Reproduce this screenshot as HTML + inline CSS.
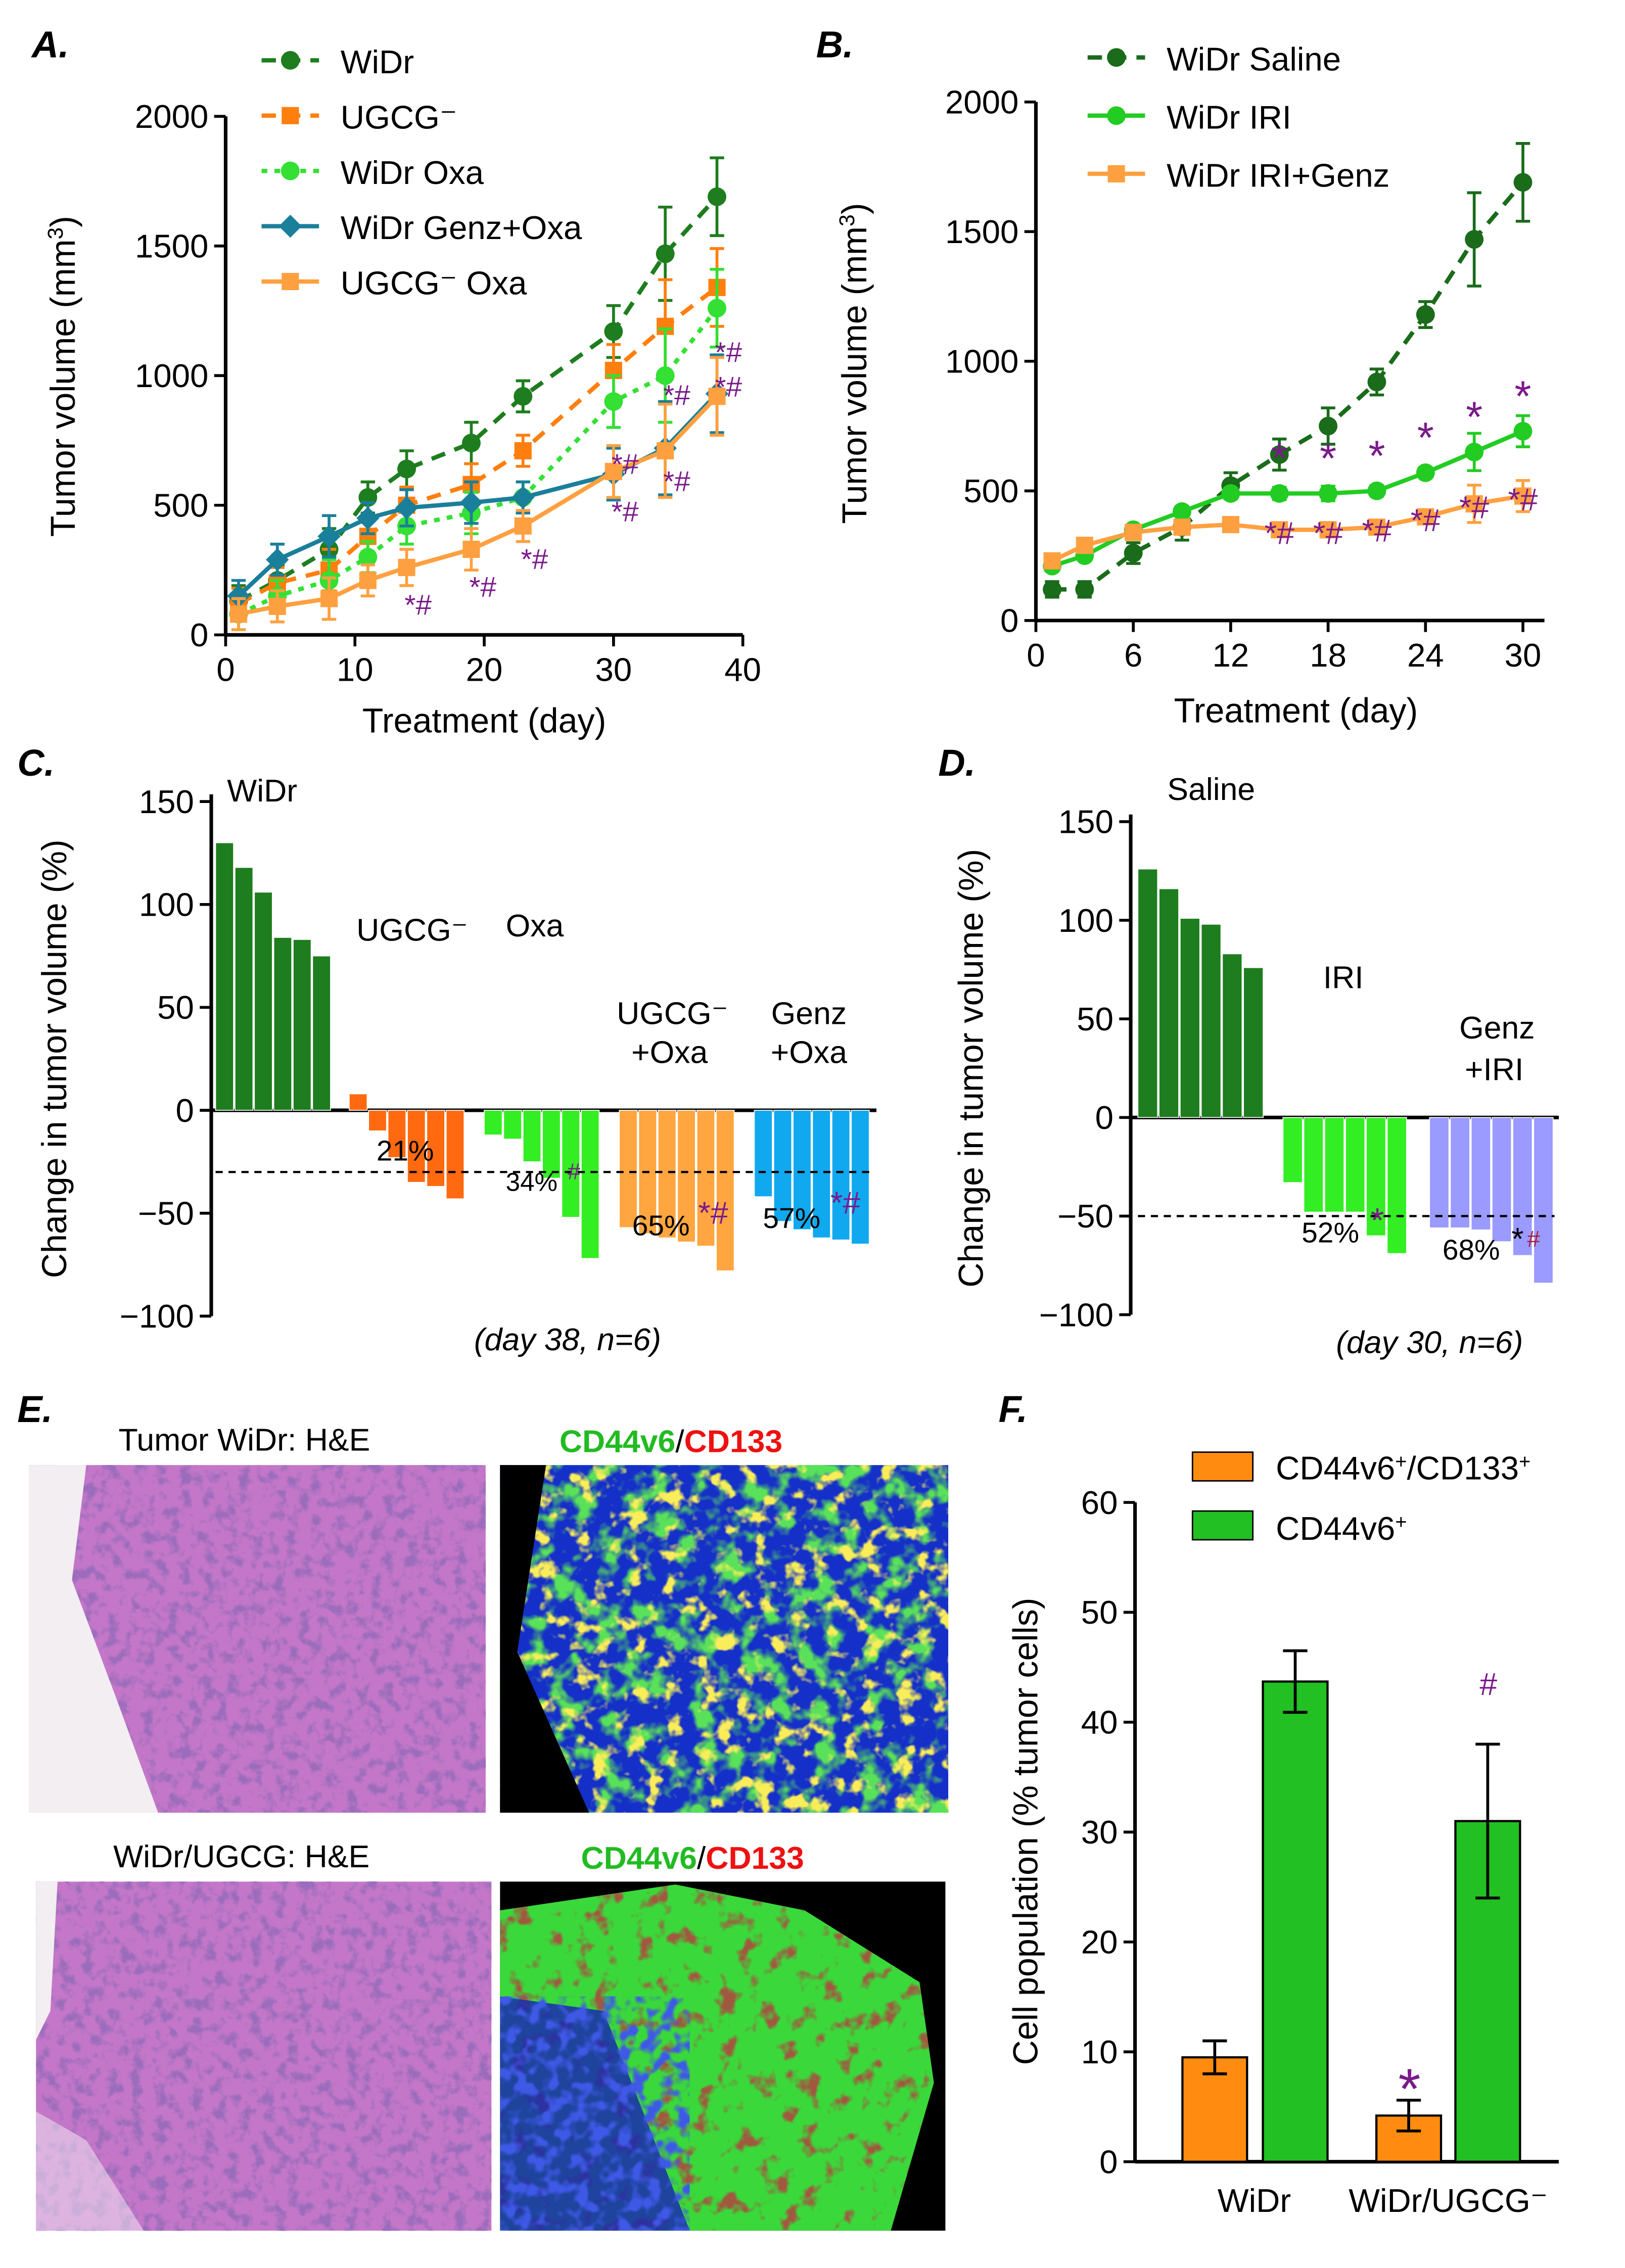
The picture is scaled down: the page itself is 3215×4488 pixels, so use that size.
<!DOCTYPE html>
<html><head><meta charset="utf-8"><style>
html,body{margin:0;padding:0;background:#fff}
svg{display:block}
text{font-family:"Liberation Sans",Arial,sans-serif}
</style></head><body>
<svg id="fig" width="3215" height="4488" viewBox="0 0 1131 1579" xmlns="http://www.w3.org/2000/svg">
<defs>
<filter id="he" x="0" y="0" width="100%" height="100%"><feTurbulence type="fractalNoise" baseFrequency="0.12" numOctaves="3" seed="3"/><feColorMatrix type="matrix" values="0 0 0 0 0.33  0 0 0 0 0.15  0 0 0 0 0.5  4 0 0 0 -1.9"/></filter>
<filter id="flg" x="0" y="0" width="100%" height="100%"><feTurbulence type="fractalNoise" baseFrequency="0.06" numOctaves="3" seed="5"/><feColorMatrix type="matrix" values="0 0 0 0 0.1  0 0 0 0 0.75  0 0 0 0 0.1  5 0 0 0 -2.4"/></filter>
<filter id="fly" x="0" y="0" width="100%" height="100%"><feTurbulence type="fractalNoise" baseFrequency="0.08" numOctaves="3" seed="11"/><feColorMatrix type="matrix" values="0 0 0 0 0.95  0 0 0 0 0.85  0 0 0 0 0.1  6 0 0 0 -3.3"/></filter>
<filter id="flr" x="0" y="0" width="100%" height="100%"><feTurbulence type="fractalNoise" baseFrequency="0.07" numOctaves="3" seed="9"/><feColorMatrix type="matrix" values="0 0 0 0 0.35  0 0 0 0 0.1  0 0 0 0 0.05  6 0 0 0 -3.4"/></filter>
<filter id="flb" x="0" y="0" width="100%" height="100%"><feTurbulence type="fractalNoise" baseFrequency="0.1" numOctaves="2" seed="2"/><feColorMatrix type="matrix" values="0 0 0 0 0.05  0 0 0 0 0.1  0 0 0 0 0.8  5 0 0 0 -2.3"/></filter>
<clipPath id="tissue"><path d="M348,1330 L470,1312 L560,1330 L640,1380 L650,1450 L620,1553 L348,1553 Z"/></clipPath>
</defs>
</svg>
<script>
// ---------- DATA ----------
const aDays=[1,4,8,11,14,19,23,30,34,38];
const aWiDr=[130,210,330,530,640,740,920,1170,1470,1690];
const aUGCG=[120,200,250,380,500,580,710,1020,1190,1340];
const aWiDrOxa=[80,150,210,300,420,470,530,900,1000,1260];
const aGenzOxa=[150,290,380,450,490,510,530,620,720,930];
const aUGCGOxa=[80,110,140,210,260,330,420,630,710,920];
const aErr=[60,60,80,60,70,80,60,100,180,150];
const aXTicks=[0,10,20,30,40];
const aYTicks=[0,500,1000,1500,2000];
const bDays=[1,3,6,9,12,15,18,21,24,27,30];
const bSaline=[120,120,260,360,520,640,750,920,1180,1470,1690];
const bIRI=[210,250,350,420,490,490,490,500,570,650,730];
const bIRIGenz=[230,290,340,360,370,350,350,360,400,450,480];
const bErr=[30,30,40,50,50,60,70,50,50,180,150];
const bXTicks=[0,6,12,18,24,30];
const bYTicks=[0,500,1000,1500,2000];
const cWiDr=[130,118,106,84,83,75];
const cUGCG=[8,-10,-23,-35,-37,-43];
const cOxa=[-12,-14,-25,-33,-52,-72];
const cUGCGOxa=[-57,-60,-62,-64,-66,-78];
const cGenzOxa=[-42,-54,-58,-62,-63,-65];
const cYTicks=[-100,-50,0,50,100,150];
const dSaline=[126,116,101,98,83,76];
const dIRI=[-33,-48,-48,-48,-60,-69];
const dGenzIRI=[-56,-56,-57,-63,-70,-84];
const dYTicks=[-100,-50,0,50,100,150];
const fCats=["WiDr","WiDr/UGCG⁻"];
const fDouble=[9.5,4.2];
const fDoubleErr=[1.5,1.4];
const fSingle=[43.7,31];
const fSingleErr=[2.8,7];
const fYTicks=[0,10,20,30,40,50,60];

// ---------- HELPERS ----------
const svg=document.getElementById('fig');const NS='http://www.w3.org/2000/svg';
function mk(tag,at,parent){const e=document.createElementNS(NS,tag);for(const k in at)e.setAttribute(k,at[k]);(parent||svg).appendChild(e);return e;}
function tx(x,y,s,sz,anchor,extra){const e=mk('text',Object.assign({x:x,y:y,'font-size':sz||22,'text-anchor':anchor||'start'},extra||{}));e.textContent=s;return e;}
const PUR='fill:#7a1a8a';
function line(x1,y1,x2,y2,st,w,dash){return mk('line',{x1,y1,x2,y2,stroke:st||'#000','stroke-width':w||2,'stroke-dasharray':dash||'none'});}
function marker(type,x,y,c){let e;
 if(type==='c')e=mk('circle',{cx:x,cy:y,r:6.5,fill:c});
 else if(type==='s')e=mk('rect',{x:x-6,y:y-6,width:12,height:12,fill:c});
 else e=mk('polygon',{points:`${x},${y-8} ${x+8},${y} ${x},${y+8} ${x-8},${y}`,fill:c});
 return e;}
function series(g,xs,ys,X,Y,c,dash,mt,err,name){
 const pts=xs.map((d,i)=>X(d)+','+Y(ys[i])).join(' ');
 const pl=mk('polyline',{points:pts,fill:'none',stroke:c,'stroke-width':3,'stroke-dasharray':dash});
 
 
 xs.forEach((d,i)=>{const x=X(d),y1=Y(ys[i]-err[i]),y2=Y(ys[i]+err[i]);
  line(x,y1,x,y2,c,2);line(x-5,y1,x+5,y1,c,2);line(x-5,y2,x+5,y2,c,2);
  const m=marker(mt,x,Y(ys[i]),c);
  
  });
}
function axesXY(X,Y,xt,yt,x0,y0,x1,y1){
 line(x0,y0,x0,y1,'#000',2.5);line(x0,y0,x1,y0,'#000',2.5);
 xt.forEach(t=>{line(X(t),y0,X(t),y0+8);tx(X(t),y0+32,t,23,'middle');});
 yt.forEach(t=>{line(x0-8,Y(t),x0,Y(t));tx(x0-12,Y(t)+8,t,23,'end');});
}

// ---------- PANEL A ----------
tx(22,40,'A.',26,'start',{'font-weight':'bold','font-style':'italic'});
{const X=d=>157+9*d,Y=v=>442-0.1805*v;
 axesXY(X,Y,aXTicks,aYTicks,157,442,517,81);
 tx(337,510,'Treatment (day)',24,'middle');
 const t=tx(52,262,'',24,'middle',{transform:'rotate(-90 52 262)'});t.innerHTML='Tumor volume (mm<tspan baseline-shift="super" font-size="15">3</tspan>)';
 series(svg,aDays,aWiDr,X,Y,'#1e7d1e','10,7','c',aErr,'widr');
 series(svg,aDays,aUGCG,X,Y,'#ff7f0e','10,7','s',aErr,'ugcg');
 series(svg,aDays,aWiDrOxa,X,Y,'#33e033','4,5','c',aErr,'widr-oxa');
 series(svg,aDays,aGenzOxa,X,Y,'#1a7f9a','none','d',aErr,'genz-oxa');
 series(svg,aDays,aUGCGOxa,X,Y,'#ffa040','none','s',aErr,'ugcg-oxa');
 [[14,aUGCGOxa,25,'*#'],[19,aUGCGOxa,25,'*#'],[23,aUGCGOxa,22,'*#'],[30,aGenzOxa,25,'*#'],[34,aGenzOxa,22,'*#'],[38,aGenzOxa,-30,'*#'],[30,aGenzOxa,-8,'*#'],[34,aGenzOxa,-38,'*#'],[38,aGenzOxa,-6,'*#']].forEach(m=>{const i=aDays.indexOf(m[0]);tx(X(m[0])+8,Y(m[1][i])+m[2]+8,m[3],20,'middle',{style:PUR});});
 const leg=[['WiDr','#1e7d1e','10,7','c'],['UGCG⁻','#ff7f0e','10,7','s'],['WiDr Oxa','#33e033','4,5','c'],['WiDr Genz+Oxa','#1a7f9a','none','d'],['UGCG⁻ Oxa','#ffa040','none','s']];
 leg.forEach((l,i)=>{const y=42+38.5*i;line(182,y,222,y,l[1],3,l[2]);marker(l[3],202,y,l[1]);const e=tx(237,y+9,l[0],23);});
}
// ---------- PANEL B ----------
tx(568,40,'B.',26,'start',{'font-weight':'bold','font-style':'italic'});
{const X=d=>721+11.3*d,Y=v=>432-0.1805*v;
 axesXY(X,Y,bXTicks,bYTicks,721,432,1075,71);
 tx(902,503,'Treatment (day)',24,'middle');
 const t=tx(603,253,'',24,'middle',{transform:'rotate(-90 603 253)'});t.innerHTML='Tumor volume (mm<tspan baseline-shift="super" font-size="15">3</tspan>)';
 series(svg,bDays,bSaline,X,Y,'#1a6b1a','10,7','c',bErr,'saline');
 series(svg,bDays,bIRI,X,Y,'#22cc22','none','c',bErr.map(e=>e*0.4),'iri');
 series(svg,bDays,bIRIGenz,X,Y,'#ffa040','none','s',bErr.map(e=>e*0.4),'iri-genz');
 bDays.slice(5).forEach((d,i)=>{tx(X(d),Y(bIRI[i+5])-14,'*',30,'middle',{style:PUR});tx(X(d),Y(bIRIGenz[i+5])+10,'*#',22,'middle',{style:PUR});});
 const leg=[['WiDr Saline','#1a6b1a','10,7','c'],['WiDr IRI','#22cc22','none','c'],['WiDr IRI+Genz','#ffa040','none','s']];
 leg.forEach((l,i)=>{const y=40+40.5*i;line(757,y,797,y,l[1],3,l[2]);marker(l[3],777,y,l[1]);tx(812,y+9,l[0],23);});
}
// ---------- WATERFALLS ----------
function waterfall(Y,x0,axisEnd,groups,ticks,ylab,lx){
 line(x0,Y(150)-5,x0,Y(-100),'#000',2.5);line(x0,Y(0),axisEnd,Y(0),'#000',2.5);
 ticks.forEach(t=>{line(x0-8,Y(t),x0,Y(t));tx(x0-12,Y(t)+8,t===-100?'−100':t===-50?'−50':t,23,'end');});
 groups.forEach(g=>{g.vals.forEach((v,i)=>{const x=g.x+i*g.w;const r=mk('rect',{x:x,y:Math.min(Y(v),Y(0)),width:g.w-1,height:Math.abs(Y(v)-Y(0)),fill:g.c,stroke:'#fff','stroke-width':0.6});});});
 tx(lx,(Y(150)+Y(-100))/2,ylab,24,'middle',{transform:`rotate(-90 ${lx} ${(Y(150)+Y(-100))/2})`});
}
tx(12,540,'C.',26,'start',{'font-weight':'bold','font-style':'italic'});
{const Y=v=>773-1.433*v;
 waterfall(Y,147,610,[{x:150,w:13.5,c:'#1e7d1e',vals:cWiDr,name:'c-widr'},{x:243,w:13.5,c:'#ff6a10',vals:cUGCG,name:'c-ugcg'},{x:337,w:13.5,c:'#33ee22',vals:cOxa,name:'c-oxa'},{x:431,w:13.5,c:'#ffa640',vals:cUGCGOxa,name:'c-ugcg-oxa'},{x:525,w:13.5,c:'#10a8ee',vals:cGenzOxa,name:'c-genz-oxa'}],cYTicks,'Change in tumor volume (%)',46);
 line(150,Y(-30),605,Y(-30),'#000',1.5,'5,4');
 tx(158,558,'WiDr',22);tx(248,655,'UGCG⁻',22);tx(352,652,'Oxa',22);tx(468,713,'UGCG⁻',22,'middle');tx(466,740,'+Oxa',22,'middle');tx(563,713,'Genz',22,'middle');tx(563,740,'+Oxa',22,'middle');
 tx(262,808,'21%',20);tx(352,829,'34%',18);tx(395,821,'#',16,'start',{style:PUR});tx(440,860,'65%',20);tx(486,852,'*#',22,'start',{style:PUR});tx(531,855,'57%',20);tx(578,845,'*#',22,'start',{style:PUR});
 tx(395,940,'(day 38, n=6)',22,'middle',{'font-style':'italic'});
}
tx(653,540,'D.',26,'start',{'font-weight':'bold','font-style':'italic'});
{const Y=v=>778-1.373*v;
 waterfall(Y,787,1085,[{x:792,w:14.7,c:'#1e7d1e',vals:dSaline,name:'d-saline'},{x:893,w:14.5,c:'#33ee22',vals:dIRI,name:'d-iri'},{x:995,w:14.5,c:'#9a9aff',vals:dGenzIRI,name:'d-genz-iri'}],dYTicks,'Change in tumor volume (%)',684);
 line(792,Y(-50),1082,Y(-50),'#000',1.5,'5,4');
 tx(843,557,'Saline',22,'middle');tx(935,688,'IRI',22,'middle');tx(1042,723,'Genz',22,'middle');tx(1040,752,'+IRI',22,'middle');
 tx(906,865,'52%',20);tx(954,858,'*',24,'start',{style:PUR});tx(1004,877,'68%',20);tx(1052,870,'*',22);tx(1063,868,'#',16,'start',{style:'fill:#aa1a3a'});
 tx(995,942,'(day 30, n=6)',22,'middle',{'font-style':'italic'});
}
// ---------- PANEL E ----------
tx(12,990,'E.',26,'start',{'font-weight':'bold','font-style':'italic'});
tx(170,1010,'Tumor WiDr:  H&E',22,'middle');
tx(168,1300,'WiDr/UGCG:  H&E',22,'middle');
tx(467,1011,'',22,'middle').innerHTML='<tspan style="fill:#22bb22" font-weight="bold">CD44v6</tspan>/<tspan style="fill:#ee1111" font-weight="bold">CD133</tspan>';
tx(482,1301,'',22,'middle').innerHTML='<tspan style="fill:#22bb22" font-weight="bold">CD44v6</tspan>/<tspan style="fill:#ee1111" font-weight="bold">CD133</tspan>';
[[20,1020,318,242,'he-image-widr'],[25,1310,317,243,'he-image-ugcg']].forEach(a=>{const b=mk('rect',{x:a[0],y:a[1],width:a[2],height:a[3],fill:'#c477c8'});mk('rect',{x:a[0],y:a[1],width:a[2],height:a[3],filter:'url(#he)'});});
mk('polygon',{points:'20,1020 60,1020 50,1100 80,1180 110,1262 20,1262',fill:'#f2eef2'});
mk('polygon',{points:'25,1310 40,1310 35,1400 25,1420',fill:'#f2eef2'});
mk('polygon',{points:'25,1470 60,1490 100,1553 25,1553',fill:'#f6f0f6',opacity:0.5});
// top fluor
const f1=mk('rect',{x:348,y:1020,width:312,height:242,fill:'#1530c8'});
mk('rect',{x:348,y:1020,width:312,height:242,filter:'url(#flg)'});
mk('rect',{x:348,y:1020,width:312,height:242,filter:'url(#fly)'});
mk('polygon',{points:'348,1020 380,1020 360,1150 410,1262 348,1262',fill:'#000'});
// bottom fluor
mk('rect',{x:348,y:1310,width:310,height:243,fill:'#000'});
const f2=mk('path',{d:'M348,1330 L470,1312 L560,1330 L640,1380 L650,1450 L620,1553 L348,1553 Z',fill:'#3ad83a'});
const cg=mk('g',{'clip-path':'url(#tissue)'});
mk('rect',{x:348,y:1310,width:310,height:243,filter:'url(#flr)'},cg);
mk('path',{d:'M348,1390 L420,1400 L480,1553 L348,1553 Z',fill:'#1a2ab0',opacity:0.85},cg);
mk('path',{d:'M348,1390 L420,1400 L480,1553 L348,1553 Z',filter:'url(#flb)'},cg);
// ---------- PANEL F ----------
tx(695,990,'F.',26,'start',{'font-weight':'bold','font-style':'italic'});
{const Y=v=>1505-7.65*v;
 line(790,Y(60),790,Y(0),'#000',2.5);line(790,Y(0),1085,Y(0),'#000',2.5);
 fYTicks.forEach(t=>{line(782,Y(t),790,Y(t));tx(778,Y(t)+8,t,23,'end');});
 const xs=[[823,879],[958,1013]];
 fCats.forEach((c,i)=>{
  [[fDouble,fDoubleErr,'#ff8c10',0,'f-double-bar'],[fSingle,fSingleErr,'#22c022',1,'f-single-bar']].forEach(s=>{
   const x=xs[i][s[3]],v=s[0][i],e=s[1][i];
   const r=mk('rect',{x:x,y:Y(v),width:45,height:Y(0)-Y(v),fill:s[2],stroke:'#000','stroke-width':1.5});
   line(x+22.5,Y(v-e),x+22.5,Y(v+e),'#000',2);line(x+14,Y(v+e),x+31,Y(v+e));line(x+14,Y(v-e),x+31,Y(v-e));
  });
  tx(xs[i][0]+50,1540,c,23,'middle');
 });
 tx(981,1468,'*',40,'middle',{style:PUR});tx(1036,1180,'#',22,'middle',{style:PUR});
 tx(722,1275,'Cell population (% tumor cells)',24,'middle',{transform:'rotate(-90 722 1275)'});
 mk('rect',{x:830,y:1011,width:42,height:20,fill:'#ff8c10',stroke:'#000','stroke-width':1});tx(888,1030,'',23).innerHTML='CD44v6<tspan baseline-shift="super" font-size="14">+</tspan>/CD133<tspan baseline-shift="super" font-size="14">+</tspan>';
 mk('rect',{x:830,y:1052,width:42,height:20,fill:'#22c022',stroke:'#000','stroke-width':1});tx(888,1072,'',23).innerHTML='CD44v6<tspan baseline-shift="super" font-size="14">+</tspan>';
}
</script>
</body></html>
